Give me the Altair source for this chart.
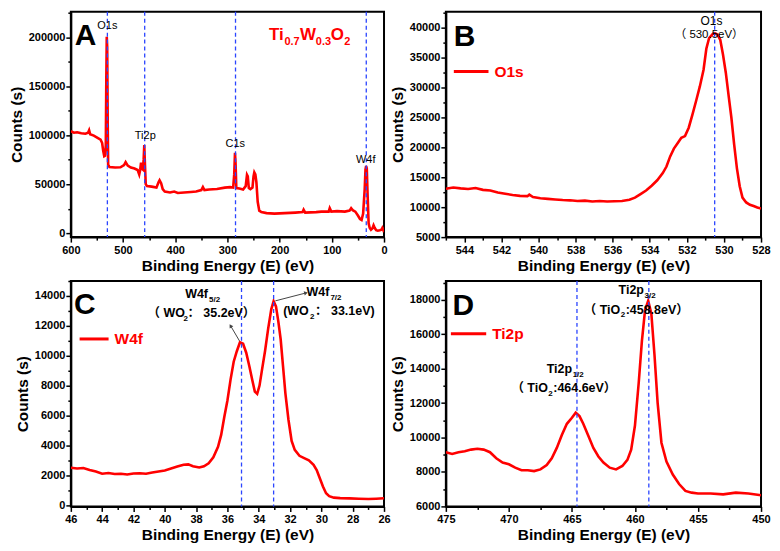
import altair as alt
import pandas as pd

# ---------------- data ----------------
A_x = [600, 594, 588, 580, 572, 567, 565, 563, 556, 548, 543, 540, 538, 536, 534.5, 533, 532, 531.2, 530.3, 529.3,
       528.5, 526, 515, 505, 498, 495, 491, 485, 478, 472, 469, 467, 465.5, 464, 462, 460.5, 459.3, 458, 456.5, 454,
       445, 436, 432, 430, 427, 424, 420, 410, 402, 395, 383, 370, 360, 350, 347, 344, 335, 320, 305, 295,
       289, 287, 285.5, 284.3, 283, 277, 270, 265, 262.5, 261, 259, 256, 252, 250, 248.5, 246.5, 244.5, 242, 239, 235,
       225, 210, 190, 170, 156, 154, 151, 130, 120, 106, 104, 101, 90, 75, 66, 63, 60, 55, 50, 46,
       43, 40, 37, 35.5, 34.2, 33, 31.5, 29.5, 27.5, 25, 22, 20, 18, 15, 12, 8, 5, 3, 1.5, 0]
A_y = [104000, 102500, 103000, 102000, 101500, 102500, 105000, 101000, 99500, 97000, 95500, 92000, 84000, 78500, 79000,
       90000, 160000, 200500, 190000, 110000, 70000, 67500, 67000, 67200, 69500, 72500, 69000, 67000, 66000, 64500,
       60000, 65000, 72000, 66000, 65000, 75000, 90000, 70000, 50000, 48000, 47500, 46500, 52000, 54000, 51000, 45000,
       42500, 41500, 42500, 41000, 41500, 42000, 42500, 44000, 47000, 44000, 44500, 45000, 46500, 47000, 46500, 60000,
       82000, 70000, 46000, 45500, 44500, 48000, 59500, 58000, 46000, 45000, 46500, 58000, 62000, 60000, 52000, 32000,
       23000, 21500, 20500, 20000, 20500, 21000, 21500, 24000, 21000, 21500, 22000, 22000, 25500, 22000, 22500, 22000,
       23000, 25500, 23500, 22000, 18000, 14500, 13500, 20000, 45000, 65000, 68500, 66000, 40000, 10000, 5500, 3500,
       5000, 8000, 5500, 3000, 2500, 3000, 3500, 5500, 4000, 1000]
A_lines = [530, 458.5, 284.5, 34]
A_labels = ["O1s", "Ti2p", "C1s", "W4f"]
A_label_x = [530, 457.4, 285, 35]
A_label_y = [211000, 99500, 90500, 74600]

B_x = [545, 544.6, 544.2, 543.8, 543.4, 543.0, 542.6, 542.2, 541.8, 541.4, 541.0, 540.6, 540.5, 540.3, 539.9, 539.5,
       539.1, 538.7, 538.3, 537.9, 537.5, 537.1, 536.7, 536.3, 535.9, 535.5, 535.1, 534.8, 534.5, 534.2, 533.9, 533.6,
       533.3, 533.1, 532.9, 532.7, 532.5, 532.3, 532.1, 531.9, 531.7, 531.5, 531.3, 531.1, 530.95, 530.8, 530.6, 530.5,
       530.35, 530.2, 530.05, 529.9, 529.75, 529.6, 529.45, 529.3, 529.15, 529.0, 528.8, 528.6, 528.4, 528.2, 528.0]
B_y = [13100, 13300, 13150, 13050, 13200, 12900, 12800, 12450, 12250, 12050, 11900, 11850, 12100, 11700, 11500, 11400,
       11300, 11200, 11150, 11050, 11100, 10950, 11050, 10950, 11000, 11050, 11250, 11600, 12200, 12800, 13600, 14500,
       15700, 16800, 18500, 19800, 20700, 21600, 21900, 23300, 25500, 27800, 30200, 33000, 36500, 38300, 39000, 39100,
       38900, 38000, 35500, 32500, 28700, 25000, 20500, 16500, 13500, 11600, 10800, 10400, 10200, 9950, 9800]
B_lines = [530.5]

C_x = [46, 45.6, 45.2, 44.8, 44.4, 44.0, 43.6, 43.2, 42.8, 42.4, 42.0, 41.6, 41.2, 40.8, 40.4, 40.0, 39.6, 39.2, 38.8,
       38.5, 38.2, 37.8, 37.5, 37.2, 36.9, 36.6, 36.4, 36.2, 36.0, 35.8, 35.6, 35.4, 35.2, 35.0, 34.8, 34.6, 34.4, 34.25,
       34.1, 33.95, 33.8, 33.6, 33.4, 33.2, 33.05, 32.9, 32.75, 32.6, 32.45, 32.3, 32.1, 31.9, 31.7, 31.4, 31.1, 30.8,
       30.5, 30.3, 30.1, 29.9, 29.7, 29.5, 29.2, 28.8, 28.2, 27.6, 27.0, 26.5, 26.0]
C_y = [2500, 2450, 2480, 2350, 2250, 2100, 2150, 2080, 2100, 2050, 2120, 2130, 2100, 2180, 2250, 2320, 2450, 2580, 2700,
       2730, 2600, 2520, 2600, 2800, 3200, 3900, 4700, 5900, 7000, 8400, 9600, 10300, 10900, 10800, 10200, 9300, 8300,
       7600, 7450, 8000, 9000, 10300, 11800, 13100, 13650, 13300, 12300, 11100, 9300, 7500, 5700, 4300, 3700, 3300, 3150,
       3000, 2700, 2350, 1800, 1250, 800, 600, 500, 470, 450, 430, 410, 430, 460]
C_lines = [35.1, 33.05]

D_x = [475, 474.5, 474.0, 473.5, 473.0, 472.5, 472.0, 471.5, 471.0, 470.5, 470.0, 469.5, 469.0, 468.5, 468.0, 467.5,
       467.0, 466.6, 466.2, 465.8, 465.4, 465.0, 464.7, 464.4, 464.1, 463.7, 463.3, 462.9, 462.5, 462.0, 461.5, 461.0,
       460.6, 460.3, 460.0, 459.7, 459.45, 459.2, 458.95, 458.7, 458.45, 458.2, 457.9, 457.5, 457.0, 456.5, 456.0, 455.5,
       455.0, 454.0, 453.0, 452.0, 451.0, 450.0]
D_y = [9150, 9050, 9150, 9200, 9300, 9350, 9300, 9150, 8800, 8550, 8450, 8250, 8100, 8100, 8050, 8150, 8400, 8800, 9400,
       10150, 10800, 11150, 11450, 11250, 10800, 10100, 9400, 8900, 8550, 8250, 8150, 8350, 8700, 9300, 10700, 13200,
       15600, 17400, 17950, 17200, 14800, 12000, 9700, 8600, 7850, 7300, 6900, 6800, 6750, 6750, 6700, 6800, 6750, 6650]
D_lines = [464.6, 458.9]

# ---------------- style ----------------
FONT = "Liberation Sans"
CJK = "Liberation Sans, Noto Sans CJK SC"
RED = "#ff0000"
BLUE = "#2b45ff"
XTITLE = "Binding Energy (E) (eV)"
YTITLE = "Counts (s)"
PH = 226


def scales(xd, yd):
    return (alt.Scale(domain=xd, reverse=True, nice=False, zero=False),
            alt.Scale(domain=yd, nice=False, zero=False))


def txt(x, y, s, xs, ys, size=11, weight="normal", color="black", align="left",
        baseline="alphabetic", dx=0, dy=0, font=FONT):
    df = pd.DataFrame({"x": [x], "y": [y], "t": [s]})
    return alt.Chart(df).mark_text(fontSize=size, fontWeight=weight, color=color, align=align,
                                   baseline=baseline, dx=dx, dy=dy, font=font).encode(
        x=alt.X("x:Q", scale=xs, axis=None),
        y=alt.Y("y:Q", scale=ys, axis=None),
        text="t:N")


def legend(x1, x2, y, label, xs, ys):
    df = pd.DataFrame({"x": [x1], "x2": [x2], "y": [y]})
    r = alt.Chart(df).mark_rule(color=RED, strokeWidth=3).encode(
        x=alt.X("x:Q", scale=xs, axis=None), x2="x2:Q", y=alt.Y("y:Q", scale=ys, axis=None))
    return [r, txt(x2, y, label, xs, ys, size=15.5, weight="bold", color=RED, baseline="middle", dx=6)]


def panel(x, y, xd, yd, xt, xm, yt, ym, vlines, w, h, extras):
    xs, ys = scales(xd, yd)
    df = pd.DataFrame({"x": x, "y": y})
    line = alt.Chart(df).mark_line(color=RED, strokeWidth=2.6, clip=True).encode(
        x=alt.X("x:Q", scale=xs, axis=alt.Axis(values=xt, format="d", title=XTITLE, orient="bottom")),
        y=alt.Y("y:Q", scale=ys, axis=alt.Axis(values=yt, format="d", title=YTITLE, orient="left")),
        order="idx:Q",
    ).transform_window(idx="row_number()")
    minor = alt.Chart(pd.DataFrame({"x": [xd[0]], "y": [yd[0]]})).mark_point(opacity=0).encode(
        x=alt.X("x:Q", scale=xs, axis=alt.Axis(values=xm, labels=False, tickSize=3, tickWidth=1.5,
                                               domain=False, title=None, orient="bottom")),
        y=alt.Y("y:Q", scale=ys, axis=alt.Axis(values=ym, labels=False, tickSize=3, tickWidth=1.5,
                                               domain=False, title=None, orient="left")))
    vl = alt.Chart(pd.DataFrame({"x": vlines})).mark_rule(
        color=BLUE, strokeDash=[4, 3], strokeWidth=1.3).encode(x=alt.X("x:Q", scale=xs, axis=None))
    layers = [line, vl, minor] + extras(xs, ys)
    return alt.layer(*layers).resolve_axis(x="independent", y="independent").properties(width=w, height=h)


def rng(a, b, s):
    out = []
    v = a
    while v <= b + 1e-9:
        out.append(round(v, 3))
        v += s
    return out


# ---- Panel A ----
def extras_A(xs, ys):
    L = [txt(592.6, 192000, "A", xs, ys, size=30, weight="bold")]
    for lx, ly, lt in zip(A_label_x, A_label_y, A_labels):
        L.append(txt(lx, ly, lt, xs, ys, size=11, align="center", baseline="middle"))
    ax, ay = 220.4, 197300
    pieces = [("Ti", 0, 0, 17), ("0.7", 15.5, 5, 11), ("W", 31, 0, 17),
              ("0.3", 47, 5, 11), ("O", 62, 0, 17), ("2", 75.5, 5, 11)]
    for s, dx, dy, sz in pieces:
        L.append(txt(ax, ay, s, xs, ys, size=sz, weight="bold", color=RED, dx=dx, dy=dy))
    return L


pA = panel(A_x, A_y, [0, 600], [-4000, 226000], rng(0, 600, 100), rng(50, 550, 100),
           rng(0, 200000, 50000), rng(25000, 225000, 50000), A_lines, 314, PH, extras_A)


# ---- Panel B ----
def extras_B(xs, ys):
    L = [txt(544.57, 36940, "B", xs, ys, size=30, weight="bold"),
         txt(530.67, 41200, "O1s", xs, ys, size=12, align="center", baseline="middle"),
         txt(530.8, 38740, "（ 530.5eV）", xs, ys, size=11.5, align="center", baseline="middle", font=CJK)]
    L += legend(544.57, 542.7, 32680, "O1s", xs, ys)
    return L


pB = panel(B_x, B_y, [528, 545], [5000, 42700], rng(528, 544, 2), rng(529, 545, 2),
           rng(5000, 40000, 5000), rng(7500, 42500, 5000), B_lines, 316, PH, extras_B)


# ---- Panel C ----
def extras_C(xs, ys):
    L = [txt(45.8, 12820, "C", xs, ys, size=30, weight="bold")]
    L += [txt(38.7, 13870, "W4f", xs, ys, size=12.5, weight="bold"),
          txt(38.7, 13870, "5/2", xs, ys, size=8, weight="bold", dx=24, dy=4),
          txt(41.1, 12560, "（ WO", xs, ys, size=12.5, weight="bold", font=CJK),
          txt(41.1, 12560, "2", xs, ys, size=8, weight="bold", dx=36, dy=4, font=CJK),
          txt(41.1, 12560, "： 35.2eV）", xs, ys, size=12.5, weight="bold", dx=40, font=CJK),
          txt(30.95, 14000, "W4f", xs, ys, size=12.5, weight="bold"),
          txt(30.95, 14000, "7/2", xs, ys, size=8, weight="bold", dx=24, dy=4),
          txt(32.44, 12750, "(WO", xs, ys, size=12.5, weight="bold", font=CJK),
          txt(32.44, 12750, "2", xs, ys, size=8, weight="bold", dx=27, dy=4, font=CJK),
          txt(32.44, 12750, "： 33.1eV)", xs, ys, size=12.5, weight="bold", dx=32, font=CJK)]
    arr = pd.DataFrame({"x": [35.23, 32.94], "y": [10990, 13670], "x2": [35.78, 31.02], "y2": [11970, 14190],
                        "a": [329, 75]})
    L.append(alt.Chart(arr).mark_rule(color="#444444", strokeWidth=1).encode(
        x=alt.X("x:Q", scale=xs, axis=None), x2="x2:Q",
        y=alt.Y("y:Q", scale=ys, axis=None), y2="y2:Q"))
    L.append(alt.Chart(arr).mark_point(shape="triangle", filled=True, size=18, color="#444444", opacity=1).encode(
        x=alt.X("x2:Q", scale=xs, axis=None), y=alt.Y("y2:Q", scale=ys, axis=None),
        angle=alt.Angle("a:Q", scale=None)))
    L += legend(45.44, 43.59, 11120, "W4f", xs, ys)
    return L


pC = panel(C_x, C_y, [26, 46], [-85, 15000], rng(26, 46, 2), rng(27, 45, 2),
           rng(0, 14000, 2000), rng(1000, 15000, 2000), C_lines, 314, PH, extras_C)


# ---- Panel D ----
def extras_D(xs, ys):
    L = [txt(474.47, 17100, "D", xs, ys, size=30, weight="bold")]
    L += [txt(461.3, 18340, "Ti2p", xs, ys, size=12.5, weight="bold"),
          txt(461.3, 18340, "3/2", xs, ys, size=8, weight="bold", dx=26, dy=4),
          txt(464.06, 17210, "（ TiO", xs, ys, size=12.5, weight="bold", font=CJK),
          txt(464.06, 17210, "2", xs, ys, size=8, weight="bold", dx=37, dy=4, font=CJK),
          txt(464.06, 17210, ":458.8eV）", xs, ys, size=12.5, weight="bold", dx=42, font=CJK),
          txt(467.0, 13770, "Ti2p", xs, ys, size=12.5, weight="bold"),
          txt(467.0, 13770, "1/2", xs, ys, size=8, weight="bold", dx=26, dy=4),
          txt(469.8, 12650, "（ TiO", xs, ys, size=12.5, weight="bold", font=CJK),
          txt(469.8, 12650, "2", xs, ys, size=8, weight="bold", dx=37, dy=4, font=CJK),
          txt(469.8, 12650, ":464.6eV）", xs, ys, size=12.5, weight="bold", dx=42, font=CJK)]
    L += legend(474.6, 471.8, 16030, "Ti2p", xs, ys)
    return L


pD = panel(D_x, D_y, [450, 475], [6000, 19100], rng(450, 475, 5), rng(452.5, 472.5, 5),
           rng(6000, 18000, 2000), rng(7000, 19000, 2000), D_lines, 316, PH, extras_D)

chart = alt.concat(pA, pB, pC, pD, columns=2, spacing={"row": 44, "column": 62}, bounds="flush").properties(
    padding={"left": 0, "top": 1, "right": 0, "bottom": 0}
).configure_view(stroke="black", strokeWidth=2).configure_axis(
    domainColor="black", domainWidth=2, tickColor="black", tickWidth=1.5, tickSize=5,
    labelFont=FONT, labelFontSize=11, labelFontWeight="bold", labelColor="black", labelPadding=1,
    labelFlush=False, titleFont=FONT, titleFontSize=15.5, titleFontWeight="bold", titleColor="black",
    titlePadding=4, grid=False
).configure_axisX(labelPadding=2, titlePadding=3)

chart.save("out.html", embed_options={"renderer": "svg", "actions": False})
